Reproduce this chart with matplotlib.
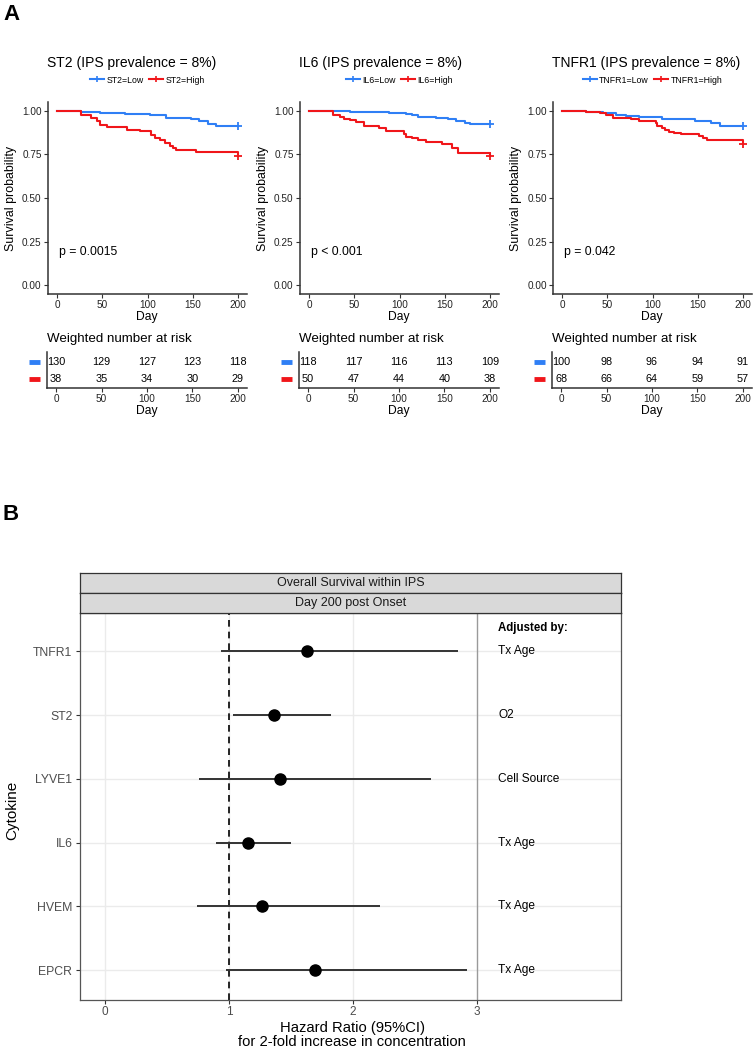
import matplotlib
matplotlib.use("Agg")
import matplotlib.pyplot as plt
from matplotlib.lines import Line2D

plt.rcParams['font.family'] = ['Liberation Sans', 'DejaVu Sans']

# ---------------- data ----------------
panel_titles = ["ST2 (IPS prevalence = 8%)", "IL6 (IPS prevalence = 8%)", "TNFR1 (IPS prevalence = 8%)"]
group_labels = [("ST2=Low", "ST2=High"), ("IL6=Low", "IL6=High"), ("TNFR1=Low", "TNFR1=High")]
p_values = ["p = 0.0015", "p < 0.001", "p = 0.042"]

st2_low_t = [26, 48, 75, 103, 121, 148, 157, 167, 176]
st2_low_s = [0.992, 0.987, 0.982, 0.977, 0.96, 0.952, 0.94, 0.925, 0.91]
st2_high_t = [26, 37, 44, 48, 55, 77, 92, 104, 108, 114, 119, 125, 128, 132, 154, 200]
st2_high_s = [0.975, 0.96, 0.94, 0.92, 0.905, 0.89, 0.885, 0.86, 0.843, 0.83, 0.815, 0.80, 0.788, 0.775, 0.765, 0.74]

il6_low_t = [30, 45, 55, 88, 107, 114, 120, 140, 154, 162, 172, 178]
il6_low_s = [0.997, 0.995, 0.99, 0.985, 0.98, 0.975, 0.962, 0.958, 0.95, 0.94, 0.93, 0.925]
il6_high_t = [26, 34, 39, 45, 52, 61, 72, 77, 85, 105, 107, 114, 121, 129, 147, 158, 165, 200]
il6_high_s = [0.975, 0.965, 0.955, 0.945, 0.935, 0.915, 0.91, 0.90, 0.885, 0.865, 0.85, 0.845, 0.835, 0.82, 0.81, 0.785, 0.76, 0.74]

tnfr1_low_t = [27, 38, 45, 60, 71, 85, 111, 136, 147, 165, 175]
tnfr1_low_s = [0.995, 0.99, 0.985, 0.975, 0.97, 0.965, 0.955, 0.95, 0.94, 0.93, 0.91]
tnfr1_high_t = [27, 42, 49, 56, 76, 85, 104, 105, 111, 114, 118, 124, 131, 151, 156, 160, 200]
tnfr1_high_s = [0.995, 0.985, 0.975, 0.96, 0.955, 0.94, 0.93, 0.915, 0.90, 0.89, 0.88, 0.87, 0.865, 0.855, 0.845, 0.83, 0.81]

risk_days = [0, 50, 100, 150, 200]
st2_low_risk = [130, 129, 127, 123, 118]
st2_high_risk = [38, 35, 34, 30, 29]
il6_low_risk = [118, 117, 116, 113, 109]
il6_high_risk = [50, 47, 44, 40, 38]
tnfr1_low_risk = [100, 98, 96, 94, 91]
tnfr1_high_risk = [68, 66, 64, 59, 57]

cytokines = ["TNFR1", "ST2", "LYVE1", "IL6", "HVEM", "EPCR"]
hazard_ratio = [1.63, 1.36, 1.41, 1.15, 1.27, 1.69]
ci_low = [0.94, 1.03, 0.76, 0.90, 0.74, 0.98]
ci_high = [2.85, 1.82, 2.63, 1.50, 2.22, 2.92]
adjusted_by = ["Tx Age", "O2", "Cell Source", "Tx Age", "Tx Age", "Tx Age"]
hr_ticks = [0, 1, 2, 3]

# ---------------- layout helpers ----------------
W, H = 755, 1050
fig = plt.figure(figsize=(W / 100, H / 100), dpi=100)

def ax_px(l, t, r, b):
    return fig.add_axes([l / W, 1 - b / H, (r - l) / W, (b - t) / H])

def fx(x):
    return x / W

def fy(y):
    return 1 - y / H

BLUE = '#2F7FF5'
RED = '#F0161A'
AXC = '#333333'

curves = [
    (st2_low_t, st2_low_s, st2_high_t, st2_high_s),
    (il6_low_t, il6_low_s, il6_high_t, il6_high_s),
    (tnfr1_low_t, tnfr1_low_s, tnfr1_high_t, tnfr1_high_s),
]
risks = [
    (st2_low_risk, st2_high_risk),
    (il6_low_risk, il6_high_risk),
    (tnfr1_low_risk, tnfr1_high_risk),
]

def step_xy(t, s):
    xs = [0] + list(t)
    ys = [1.0] + list(s)
    if xs[-1] < 200:
        xs.append(200)
        ys.append(ys[-1])
    return xs, ys

fig.text(fx(3), fy(14), "A", fontsize=16, fontweight='bold', ha='left', va='center')

lefts = [48, 300, 553]
for i, L in enumerate(lefts):
    R = L + 199
    ax = ax_px(L, 102, R, 294)
    lt, ls, ht, hs = curves[i]
    for t, s, c in [(lt, ls, BLUE), (ht, hs, RED)]:
        xs, ys = step_xy(t, s)
        ax.step(xs, ys, where='post', color=c, lw=1.5)
        ax.plot([200], [ys[-1]], marker='+', color=c, markersize=6, mew=1.3, clip_on=False)
    ax.set_xlim(-10, 210)
    ax.set_ylim(-0.05, 1.05)
    ax.set_xticks([0, 50, 100, 150, 200])
    ax.set_yticks([0, 0.25, 0.5, 0.75, 1.0])
    ax.set_yticklabels(["0.00", "0.25", "0.50", "0.75", "1.00"])
    for sp in ['top', 'right']:
        ax.spines[sp].set_visible(False)
    for sp in ['left', 'bottom']:
        ax.spines[sp].set_color(AXC)
        ax.spines[sp].set_linewidth(1.1)
    ax.tick_params(length=3, width=0.8, color=AXC, labelsize=7.2, pad=1.5, labelcolor='#222222')
    ax.text(2, 0.19, p_values[i], fontsize=8.8, ha='left', va='center')
    fig.text(fx(L - 37), fy(198), "Survival probability", rotation=90, fontsize=8.9,
             ha='center', va='center')
    fig.text(fx(L + 99), fy(317), "Day", fontsize=8.7, ha='center', va='center')
    fig.text(fx(L - 1), fy(63), panel_titles[i], fontsize=10, ha='left', va='center')
    handles = [Line2D([], [], color=BLUE, lw=1.5, marker='+', markersize=5, mew=1.2),
               Line2D([], [], color=RED, lw=1.5, marker='+', markersize=5, mew=1.2)]
    ax.legend(handles, group_labels[i], ncol=2, loc='center', bbox_to_anchor=(0.5, 1 + 22 / 192),
              frameon=False, fontsize=6.3, handlelength=1.6, handletextpad=0.3,
              columnspacing=0.6, borderaxespad=0)

    # risk table
    rax = ax_px(L - 1, 352, R, 388)
    low_r, high_r = risks[i]
    for d, v in zip(risk_days, low_r):
        rax.text(d, 2, str(v), ha='center', va='center', fontsize=7.8)
    for d, v in zip(risk_days, high_r):
        rax.text(d, 1, str(v), ha='center', va='center', fontsize=7.8)
    rax.set_xlim(-10, 210)
    rax.set_ylim(0.47, 2.59)
    rax.set_xticks([0, 50, 100, 150, 200])
    rax.set_yticks([])
    for sp in ['top', 'right']:
        rax.spines[sp].set_visible(False)
    for sp in ['left', 'bottom']:
        rax.spines[sp].set_color(AXC)
        rax.spines[sp].set_linewidth(1.1)
    rax.tick_params(length=3, width=0.8, color=AXC, labelsize=7.2, pad=1.5, labelcolor='#222222')
    fig.text(fx(L - 1), fy(339), "Weighted number at risk", fontsize=9.6, ha='left', va='center')
    fig.text(fx(L + 99), fy(411), "Day", fontsize=8.7, ha='center', va='center')
    fig.add_artist(Line2D([fx(L - 19), fx(L - 8)], [fy(362), fy(362)], color=BLUE, lw=3.5,
                          solid_capstyle='butt'))
    fig.add_artist(Line2D([fx(L - 19), fx(L - 8)], [fy(379), fy(379)], color=RED, lw=3.5,
                          solid_capstyle='butt'))

# ---------------- Panel B ----------------
fig.text(fx(3), fy(515), "B", fontsize=16, fontweight='bold', ha='left', va='center')

bx = ax_px(80, 613, 621, 1000)
n = len(cytokines)
ypos = [n - k for k in range(n)]
bx.set_xlim(-0.2, 4.16)
bx.set_ylim(0.53, 6.6)
for xv in [0, 1, 2]:
    bx.axvline(xv, color='#EBEBEB', lw=1.0, zorder=0)
for yv in ypos:
    bx.axhline(yv, color='#EBEBEB', lw=1.0, zorder=0)
bx.axvline(3, color='#9A9A9A', lw=1.0, zorder=1)
bx.axvline(1, color='black', lw=1.2, ls=(0, (4, 3)), zorder=2)
bx.hlines(ypos, ci_low, ci_high, color='#333333', lw=1.4, zorder=3)
bx.plot(hazard_ratio, ypos, 'o', color='black', markersize=8, zorder=4)
for yv, txt in zip(ypos, adjusted_by):
    bx.text(3.17, yv, txt, fontsize=8.6, ha='left', va='center', color='black')
bx.text(3.17, 6.37, "Adjusted by:", fontsize=8.3, fontweight='bold', ha='left', va='center')
bx.set_yticks(ypos)
bx.set_yticklabels(cytokines)
bx.set_xticks(hr_ticks)
bx.tick_params(axis='y', length=3, width=0.8, color='#333333', labelsize=8.8,
               labelcolor='#4D4D4D', pad=2.5)
bx.tick_params(axis='x', length=3, width=0.8, color='#333333', labelsize=8.5,
               labelcolor='#4D4D4D', pad=1.5)
for sp in bx.spines.values():
    sp.set_color('#555555')
    sp.set_linewidth(0.9)
fig.text(fx(352), fy(1028), "Hazard Ratio (95%CI)", fontsize=10.6, ha='center', va='center')
fig.text(fx(352), fy(1042), "for 2-fold increase in concentration", fontsize=10.6,
         ha='center', va='center')
fig.text(fx(12), fy(810), "Cytokine", rotation=90, fontsize=11, ha='center', va='center')

for (t, b, label) in [(573, 593, "Overall Survival within IPS"), (593, 613, "Day 200 post Onset")]:
    sx = ax_px(80, t, 621, b)
    sx.set_facecolor('#D9D9D9')
    sx.set_xticks([])
    sx.set_yticks([])
    for sp in sx.spines.values():
        sp.set_color('#333333')
        sp.set_linewidth(0.9)
    sx.text(0.5, 0.5, label, transform=sx.transAxes, ha='center', va='center',
            fontsize=9.0, color='#1A1A1A')

fig.savefig("out.png", dpi=100)
